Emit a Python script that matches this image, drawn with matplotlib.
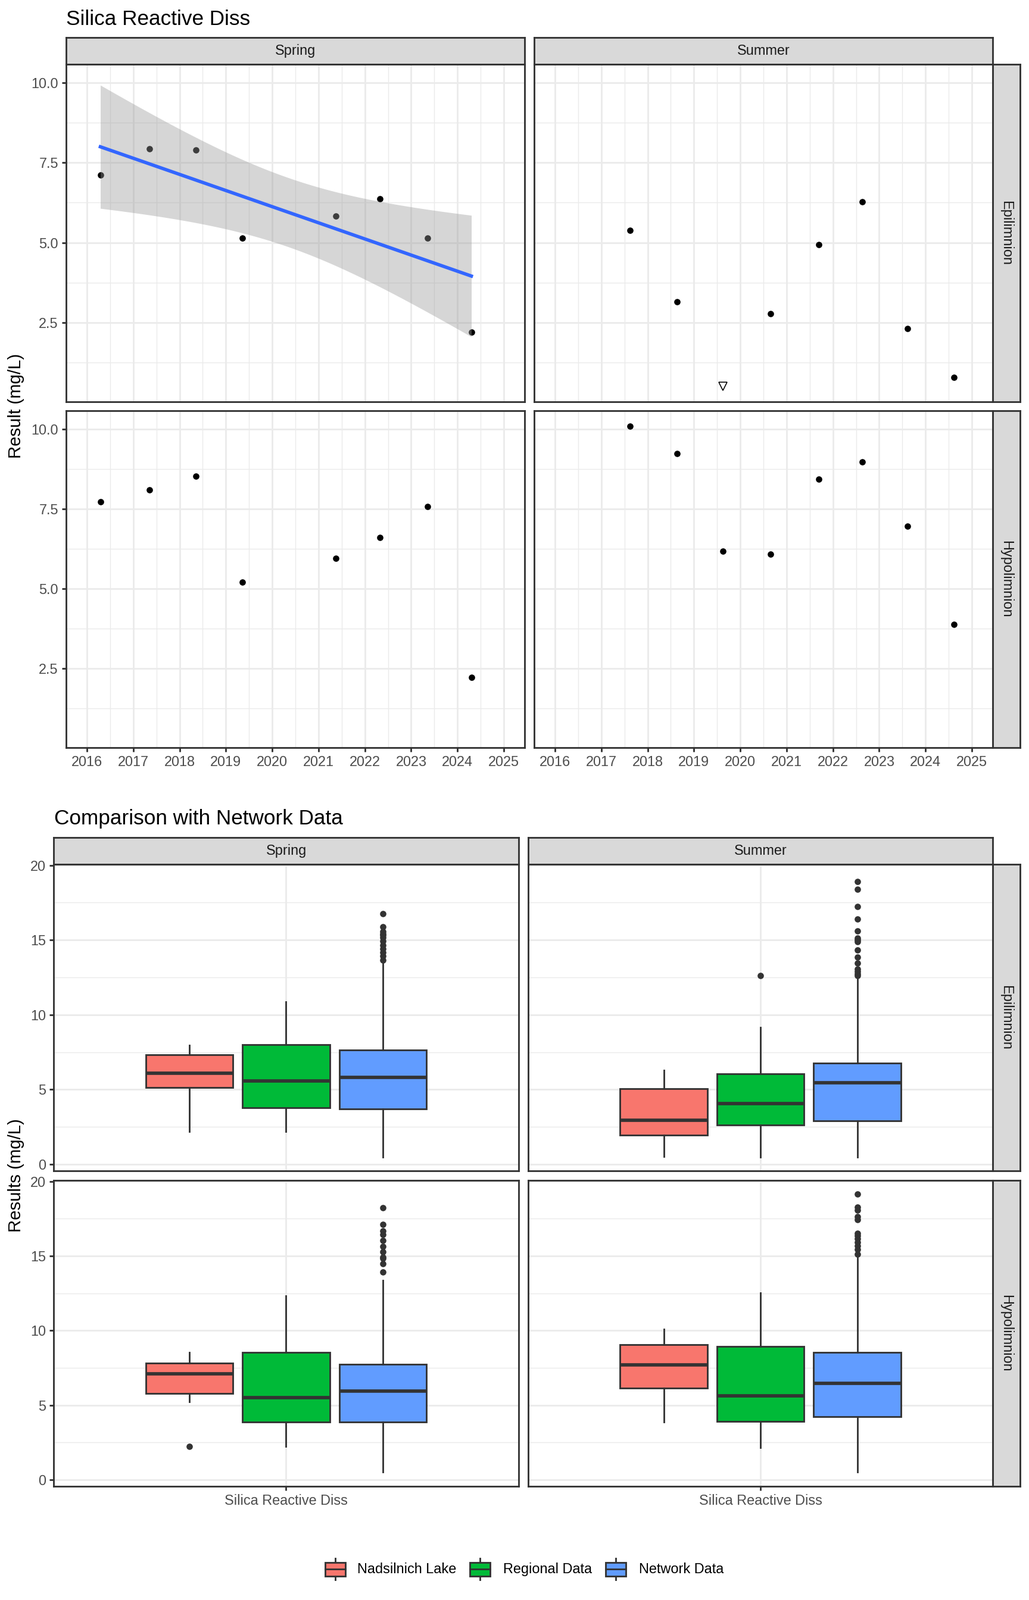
import numpy as np
import matplotlib
matplotlib.use('Agg')
import matplotlib.pyplot as plt
from matplotlib.patches import Rectangle
from matplotlib import cbook

plt.rcParams['font.family'] = ['Liberation Sans', 'DejaVu Sans']

W, H = 1728, 2688
DPI = 192

seasons = ['Spring', 'Summer']
depths = ['Epilimnion', 'Hypolimnion']
parameter = 'Silica Reactive Diss'

# sampling dates as decimal years
spring_dates = [2016.29, 2017.35, 2018.35, 2019.35, 2021.37, 2022.33, 2023.36, 2024.30]
summer_dates = [2017.62, 2018.64, 2019.62, 2020.66, 2021.69, 2022.63, 2023.61, 2024.61]

# results (mg/L)
spring_epi = [7.12, 7.94, 7.90, 5.14, 5.83, 6.37, 5.14, 2.20]
summer_epi = [5.39, 3.14, 0.50, 2.78, 4.93, 6.28, 2.32, 0.79]
spring_hypo = [7.72, 8.09, 8.53, 5.21, 5.96, 6.61, 7.58, 2.23]
summer_hypo = [10.10, 9.23, 6.17, 6.09, 8.44, 8.97, 6.96, 3.88]

# below detection limit flags
spring_epi_nd = [False] * 8
summer_epi_nd = [False, False, True, False, False, False, False, False]
spring_hypo_nd = [False] * 8
summer_hypo_nd = [False] * 8

trend_panels = [('Spring', 'Epilimnion')]

# comparison data, panel order: Spring-Epi, Summer-Epi, Spring-Hypo, Summer-Hypo
regional_whislo = [2.19, 0.49, 2.22, 2.15]
regional_q1 = [3.79, 2.64, 3.85, 3.90]
regional_med = [5.55, 4.04, 5.50, 5.64]
regional_q3 = [7.99, 6.05, 8.55, 8.93]
regional_whishi = [10.87, 9.14, 12.31, 12.52]
regional_fliers = [[], [12.60], [], []]

network_whislo = [0.49, 0.49, 0.50, 0.50]
network_q1 = [3.71, 2.92, 3.85, 4.23]
network_med = [5.82, 5.47, 5.94, 6.47]
network_q3 = [7.66, 6.75, 7.74, 8.55]
network_whishi = [13.55, 12.45, 13.37, 14.95]
network_fliers = [
    [13.67, 13.92, 14.17, 14.42, 14.66, 14.91, 15.15, 15.32, 15.40, 15.57, 15.90, 16.77],
    [12.60, 12.72, 12.88, 13.05, 13.46, 13.87, 14.32, 14.88, 15.00, 15.11, 15.60, 16.38,
     17.22, 18.40, 18.90],
    [13.91, 14.49, 14.82, 14.90, 15.28, 15.63, 16.04, 16.42, 16.69, 17.11, 18.22],
    [15.13, 15.44, 15.67, 15.90, 16.15, 16.34, 16.50, 17.44, 17.64, 18.07, 18.25, 19.13],
]

groups = ['Nadsilnich Lake', 'Regional Data', 'Network Data']
group_colors = ['#F8766D', '#00BA38', '#619CFF']

T_975_DF6 = 2.446912  # t quantile for the 95% band, n = 8

dates = {'Spring': spring_dates, 'Summer': summer_dates}
values = {('Spring', 'Epilimnion'): spring_epi, ('Summer', 'Epilimnion'): summer_epi,
          ('Spring', 'Hypolimnion'): spring_hypo, ('Summer', 'Hypolimnion'): summer_hypo}
nd_flags = {('Spring', 'Epilimnion'): spring_epi_nd, ('Summer', 'Epilimnion'): summer_epi_nd,
            ('Spring', 'Hypolimnion'): spring_hypo_nd, ('Summer', 'Hypolimnion'): summer_hypo_nd}

GRID = '#EBEBEB'
DARK = '#333333'
LW = 1.07
PT = 4.0  # point size

fig = plt.figure(figsize=(W / DPI, H / DPI), dpi=DPI)
fig.patch.set_facecolor('white')


def px_axes(x0, y0, x1, y1):
    return fig.add_axes([x0 / W, 1 - y1 / H, (x1 - x0) / W, (y1 - y0) / H])


def style_panel(ax):
    ax.set_facecolor('white')
    for s in ax.spines.values():
        s.set_color(DARK)
        s.set_linewidth(LW)
        s.set_zorder(6)
    ax.grid(which='major', color=GRID, lw=LW)
    ax.grid(which='minor', color=GRID, lw=LW / 2)
    ax.set_axisbelow(True)
    ax.tick_params(which='major', length=2.75, width=LW, color=DARK, pad=2.2,
                   labelsize=8.8, labelcolor='#4D4D4D')
    ax.tick_params(which='minor', length=0)


def add_strip(x0, y0, x1, y1, text, rotation=0):
    sax = px_axes(x0, y0, x1, y1)
    sax.set_facecolor('#D9D9D9')
    sax.set_xticks([])
    sax.set_yticks([])
    for s in sax.spines.values():
        s.set_color(DARK)
        s.set_linewidth(LW)
    sax.text(0.5, 0.5, text, transform=sax.transAxes, ha='center', va='center',
             rotation=rotation, fontsize=8.8, color='#1A1A1A')


# ---------------- top: time series ----------------
all_vals = np.concatenate([np.array(v) for v in values.values()])
ymin, ymax = all_vals.min(), all_vals.max()
pad = 0.05 * (ymax - ymin)
ts_ylim = (ymin - pad, ymax + pad)
ts_xlim = (2016 - 0.45, 2025 + 0.45)

col_x = [(111, 881), (897, 1667)]
row_y_top = [(108, 675), (690, 1256)]

for ci, season in enumerate(seasons):
    add_strip(col_x[ci][0], 63, col_x[ci][1], 108, season)
for ri, depth in enumerate(depths):
    add_strip(1667, row_y_top[ri][0], 1713, row_y_top[ri][1], depth, rotation=-90)

for ri, depth in enumerate(depths):
    for ci, season in enumerate(seasons):
        ax = px_axes(col_x[ci][0], row_y_top[ri][0], col_x[ci][1], row_y_top[ri][1])
        style_panel(ax)
        x = np.array(dates[season])
        y = np.array(values[(season, depth)])
        nd = np.array(nd_flags[(season, depth)])
        ax.plot(x[~nd], y[~nd], 'o', ms=PT, mew=0, color='black', zorder=2)
        if nd.any():
            ax.plot(x[nd], y[nd], 'v', ms=5.2, mfc='white', mec='black', mew=0.6, zorder=2)
        if (season, depth) in trend_panels:
            slope, icpt = np.polyfit(x, y, 1)
            xs = np.linspace(x.min(), x.max(), 80)
            fit = icpt + slope * xs
            resid = y - (icpt + slope * x)
            s = np.sqrt(np.sum(resid ** 2) / (len(x) - 2))
            se = s * np.sqrt(1 / len(x) + (xs - x.mean()) ** 2 / np.sum((x - x.mean()) ** 2))
            ax.fill_between(xs, fit - T_975_DF6 * se, fit + T_975_DF6 * se,
                            color='#999999', alpha=0.4, lw=0, zorder=3)
            ax.plot(xs, fit, color='#3366FF', lw=2.13, zorder=4)
        ax.set_xlim(ts_xlim)
        ax.set_ylim(ts_ylim)
        ax.set_xticks(range(2016, 2026))
        ax.set_xticks(np.arange(2016.5, 2025, 1.0), minor=True)
        ax.set_yticks([2.5, 5.0, 7.5, 10.0])
        ax.set_yticklabels(['2.5', '5.0', '7.5', '10.0'])
        ax.set_yticks([1.25, 3.75, 6.25, 8.75], minor=True)
        if ri == 0:
            ax.tick_params(bottom=False, labelbottom=False)
        if ci == 1:
            ax.tick_params(left=False, labelleft=False)

fig.text(111 / W, 1 - 42 / H, parameter, fontsize=13.2, ha='left', va='baseline')
fig.text(27 / W, 1 - 682 / H, 'Result (mg/L)', fontsize=11, rotation=90,
         ha='center', va='center')

# ---------------- bottom: comparison boxplots ----------------
panel_keys = [('Spring', 'Epilimnion'), ('Summer', 'Epilimnion'),
              ('Spring', 'Hypolimnion'), ('Summer', 'Hypolimnion')]
bx_vals = [regional_whislo + network_whislo, regional_whishi + network_whishi]
for i, key in enumerate(panel_keys):
    bx_vals.append(values[key])
    bx_vals.append(regional_fliers[i])
    bx_vals.append(network_fliers[i])
flat = np.concatenate([np.array(v, dtype=float) for v in bx_vals if len(v)])
bmin, bmax = flat.min(), flat.max()
bpad = 0.05 * (bmax - bmin)
bx_ylim = (bmin - bpad, bmax + bpad)

col_xb = [(90, 871), (887, 1667)]
row_yb = [(1452, 1967), (1983, 2497)]

for ci, season in enumerate(seasons):
    add_strip(col_xb[ci][0], 1407, col_xb[ci][1], 1452, season)
for ri, depth in enumerate(depths):
    add_strip(1667, row_yb[ri][0], 1713, row_yb[ri][1], depth, rotation=-90)

for pi, key in enumerate(panel_keys):
    season, depth = key
    ci, ri = seasons.index(season), depths.index(depth)
    ax = px_axes(col_xb[ci][0], row_yb[ri][0], col_xb[ci][1], row_yb[ri][1])
    style_panel(ax)
    lake = cbook.boxplot_stats(np.array(values[key]), whis=1.5)[0]
    regional = dict(whislo=regional_whislo[pi], q1=regional_q1[pi], med=regional_med[pi],
                    q3=regional_q3[pi], whishi=regional_whishi[pi],
                    fliers=regional_fliers[pi])
    network = dict(whislo=network_whislo[pi], q1=network_q1[pi], med=network_med[pi],
                   q3=network_q3[pi], whishi=network_whishi[pi],
                   fliers=network_fliers[pi])
    bp = ax.bxp([lake, regional, network], positions=[0.75, 1.0, 1.25], widths=0.225,
                patch_artist=True, showcaps=False, manage_ticks=False,
                boxprops=dict(edgecolor=DARK, linewidth=LW),
                medianprops=dict(color=DARK, linewidth=2.13, solid_capstyle='butt'),
                whiskerprops=dict(color=DARK, linewidth=LW),
                flierprops=dict(marker='o', markerfacecolor=DARK, markeredgecolor='none',
                                markersize=PT))
    for box, col in zip(bp['boxes'], group_colors):
        box.set_facecolor(col)
    for art in bp['boxes'] + bp['medians'] + bp['whiskers'] + bp['fliers']:
        art.set_zorder(3)
    ax.set_xlim(0.4, 1.6)
    ax.set_ylim(bx_ylim)
    ax.set_xticks([1.0])
    ax.set_xticklabels([parameter])
    ax.set_yticks([0, 5, 10, 15, 20])
    ax.set_yticks([2.5, 7.5, 12.5, 17.5], minor=True)
    if ri == 0:
        ax.tick_params(bottom=False, labelbottom=False)
    if ci == 1:
        ax.tick_params(left=False, labelleft=False)

fig.text(91 / W, 1 - 1385 / H, 'Comparison with Network Data', fontsize=13.2,
         ha='left', va='baseline')
fig.text(27 / W, 1 - 1975 / H, 'Results (mg/L)', fontsize=11, rotation=90,
         ha='center', va='center')

# ---------------- legend ----------------
lax = px_axes(0, 2600, W, 2672)
lax.set_xlim(0, W)
lax.set_ylim(2672, 2600)
lax.axis('off')
key_cx = [563, 806, 1034]
text_x = [600, 845, 1073]
cy = 2636
for name, col, kx, tx in zip(groups, group_colors, key_cx, text_x):
    lax.plot([kx, kx], [cy - 18.4, cy + 18.4], color=DARK, lw=LW)
    lax.add_patch(Rectangle((kx - 17.25, cy - 11.5), 34.5, 23, facecolor=col,
                            edgecolor=DARK, lw=LW, zorder=3))
    lax.plot([kx - 17.25, kx + 17.25], [cy, cy], color=DARK, lw=LW, zorder=4)
    lax.text(tx, cy, name, fontsize=8.8, ha='left', va='center')

fig.savefig('out.png', dpi=DPI)
